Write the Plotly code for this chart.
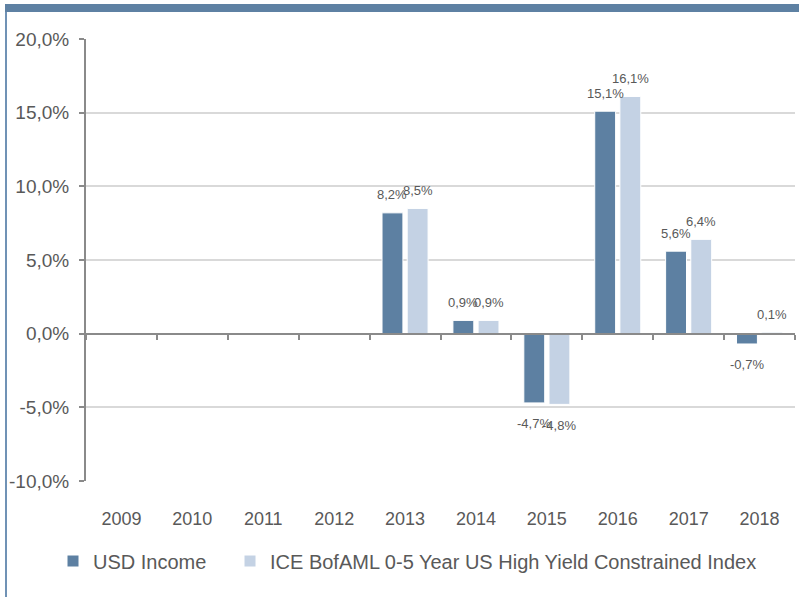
import plotly.graph_objects as go

years = ["2009", "2010", "2011", "2012", "2013", "2014", "2015", "2016", "2017", "2018"]
usd_income = [None, None, None, None, 8.2, 0.9, -4.7, 15.1, 5.6, -0.7]
ice_index = [None, None, None, None, 8.5, 0.9, -4.8, 16.1, 6.4, 0.1]
series_names = ["USD Income", "ICE BofAML 0-5 Year US High Yield Constrained Index"]
y_tickvals = [-10, -5, 0, 5, 10, 15, 20]
y_ticktext = ["-10,0%", "-5,0%", "0,0%", "5,0%", "10,0%", "15,0%", "20,0%"]

DARK = "#5D80A2"
LIGHT = "#C4D2E4"
TXT = "#595959"
AX = "#8A8A8A"
GRID = "#D9D9D9"
FONT = "Liberation Sans, Arial, sans-serif"

W, H = 799, 597
L, R, T, B = 86, 4, 39, 116
pw, ph = W - L - R, H - T - B
YMIN, YMAX = -10, 20

BARGAP, GROUPGAP = 0.29, 0.17
cat_px = pw / len(years)
slot_px = cat_px * (1 - BARGAP) / 2
offs = [-slot_px / 2, slot_px / 2]


def fmt(v):
    return ("%.1f%%" % v).replace(".", ",")


def px2paper_x(x):
    return (x - L) / pw


def px2paper_y(y):
    return (H - B - y) / ph


fig = go.Figure()
for name, vals, col, lg in [(series_names[0], usd_income, DARK, "legend"),
                            (series_names[1], ice_index, LIGHT, "legend2")]:
    fig.add_trace(go.Bar(
        x=years, y=vals, name=name, legend=lg,
        marker=dict(color=col, line=dict(color="white", width=1)),
        hoverinfo="skip",
    ))

# carrier trace for the zero-line axis (boundary ticks)
fig.add_trace(go.Scatter(x=[None], y=[None], xaxis="x2", yaxis="y",
                         showlegend=False, hoverinfo="skip", mode="markers"))

annotations = []
for vals, off in [(usd_income, offs[0]), (ice_index, offs[1])]:
    for i, v in enumerate(vals):
        if v is None:
            continue
        annotations.append(dict(
            x=i, y=v, xref="x", yref="y", text=fmt(v), showarrow=False,
            xshift=off, yshift=18 if v >= 0 else -21,
            font=dict(family=FONT, size=13, color=TXT),
            xanchor="center", yanchor="middle",
        ))

shapes = [
    dict(type="rect", xref="paper", yref="paper",
         x0=px2paper_x(5), x1=px2paper_x(799), y0=px2paper_y(12), y1=px2paper_y(4),
         fillcolor="#5E81A3", line=dict(width=0), layer="above"),
    dict(type="line", xref="paper", yref="paper",
         x0=px2paper_x(6), x1=px2paper_x(6), y0=px2paper_y(12), y1=px2paper_y(597),
         line=dict(color="#7092B5", width=2), layer="above"),
]

legend_common = dict(
    orientation="h", yanchor="middle", xanchor="left",
    font=dict(family=FONT, size=20, color=TXT),
    itemwidth=30, bgcolor="rgba(0,0,0,0)",
)

n = len(years)
fig.update_layout(
    width=W, height=H,
    margin=dict(l=L, r=R, t=T, b=B, pad=0, autoexpand=False),
    paper_bgcolor="white", plot_bgcolor="white",
    barmode="group", bargap=BARGAP, bargroupgap=GROUPGAP,
    font=dict(family=FONT, color=TXT),
    showlegend=True,
    legend=dict(x=px2paper_x(53), y=px2paper_y(561), **legend_common),
    legend2=dict(x=px2paper_x(230), y=px2paper_y(561), **legend_common),
    xaxis=dict(
        type="category", categoryorder="array", categoryarray=years,
        range=[-0.5, n - 0.5], showline=False, showgrid=False, zeroline=False,
        ticks="outside", ticklen=21, tickcolor="rgba(0,0,0,0)",
        tickfont=dict(family=FONT, size=18, color=TXT),
    ),
    xaxis2=dict(
        overlaying="x", anchor="free",
        position=(0 - YMIN) / (YMAX - YMIN),
        range=[-0.5, n - 0.5],
        tickmode="array",
        tickvals=[i - 0.5 for i in range(n + 1)],
        showticklabels=False, ticks="outside", ticklen=5, tickwidth=1.5, tickcolor=AX,
        showline=True, linecolor=AX, linewidth=2, showgrid=False, zeroline=False,
    ),
    yaxis=dict(
        range=[YMIN, YMAX], tickmode="array", tickvals=y_tickvals, ticktext=y_ticktext,
        showline=True, linecolor=AX, linewidth=2,
        ticks="outside", ticklen=5, tickwidth=1.5, tickcolor=AX,
        showgrid=True, gridcolor=GRID, gridwidth=1.5, zeroline=False,
        ticklabelstandoff=6,
        tickfont=dict(family=FONT, size=19, color=TXT),
    ),
    annotations=annotations,
    shapes=shapes,
)

post = "document.body.style.margin='0';document.body.style.overflow='hidden';"
fig.write_html("out.html", post_script=post, config={"displayModeBar": False})
